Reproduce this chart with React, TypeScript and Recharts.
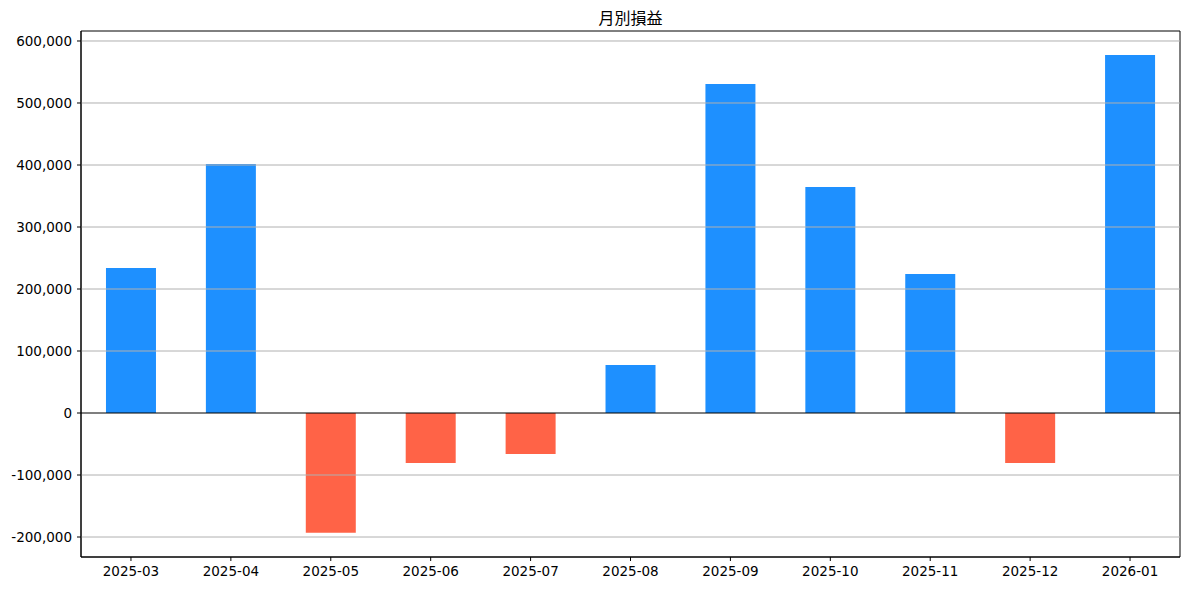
import React from "react"
import { BarChart, Bar, XAxis, YAxis, Cell, ReferenceLine, ReferenceArea } from "recharts"

// 月別損益 (monthly P&L)
const months = ["2025-03", "2025-04", "2025-05", "2025-06", "2025-07", "2025-08", "2025-09", "2025-10", "2025-11", "2025-12", "2026-01"]
const profits = [234000, 401500, -193300, -80600, -66000, 77400, 530600, 364500, 224200, -80600, 577400]
const yTicks = [-200000, -100000, 0, 100000, 200000, 300000, 400000, 500000, 600000]
const yDomain = [-232258, 616129]

const FONT = "'Noto Sans CJK JP', 'Noto Sans', sans-serif"
const TICK_FONT = "'DejaVu Sans', sans-serif"

export default function App() {
    const chartData = months.map((m, i) => ({ month: m, value: profits[i] }))
    const fmt = (v: number) => v.toLocaleString("en-US")

    return (
        <div style={{ position: "absolute", left: 0, top: 0, width: 1189, height: 590, background: "#fff", fontFamily: FONT }}>
            <div style={{ position: "absolute", left: 81, width: 1099, top: 5, textAlign: "center", fontSize: 16, color: "#000" }}>
                月別損益
            </div>
            <BarChart
                width={1189}
                height={590}
                data={chartData}
                margin={{ top: 31, right: 9, left: 0, bottom: 0 }}
                barCategoryGap="25%"
            >
                <XAxis
                    dataKey="month"
                    height={33}
                    tick={{ fontSize: 13.5, fill: "#000", fontFamily: TICK_FONT }}
                    tickSize={4}
                    tickMargin={5}
                    axisLine={{ stroke: "#000" }}
                    tickLine={{ stroke: "#000" }}
                    interval={0}
                />
                <YAxis
                    width={81}
                    domain={yDomain}
                    ticks={yTicks}
                    allowDataOverflow
                    tickFormatter={fmt}
                    tick={{ fontSize: 13.5, fill: "#000", fontFamily: TICK_FONT }}
                    tickSize={4}
                    tickMargin={5}
                    axisLine={{ stroke: "#000" }}
                    tickLine={{ stroke: "#000" }}
                />
                <Bar dataKey="value" isAnimationActive={false}>
                    {chartData.map((d, i) => (
                        <Cell key={`c-${i}`} fill={d.value >= 0 ? "#1E90FF" : "#FF6347"} />
                    ))}
                </Bar>
                {/* grid drawn over the bars, like the original */}
                {yTicks.filter((t) => t !== 0).map((t) => (
                    <ReferenceLine key={t} y={t} stroke="#b0b0b0" strokeWidth={1} />
                ))}
                <ReferenceLine y={0} stroke="#000" strokeWidth={1.2} />
                {/* plot frame */}
                <ReferenceArea y1={yDomain[0]} y2={yDomain[1]} fill="none" fillOpacity={0} stroke="#000" strokeWidth={1} />
            </BarChart>
        </div>
    )
}
